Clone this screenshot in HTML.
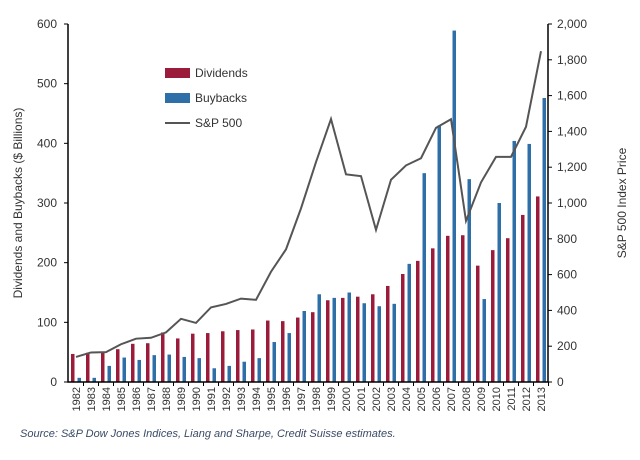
<!DOCTYPE html>
<html><head><meta charset="utf-8"><style>
body{margin:0;background:#fff;font-family:"Liberation Sans",sans-serif}
svg text{font-family:"Liberation Sans",sans-serif}
</style></head><body>
<svg width="640" height="455" id="c">
<text x="20" y="437" font-size="11" font-style="italic" fill="#3a4a66">Source: S&amp;P Dow Jones Indices, Liang and Sharpe, Credit Suisse estimates.</text>
</svg>
<script>
const years=[1982,1983,1984,1985,1986,1987,1988,1989,1990,1991,1992,1993,1994,1995,1996,1997,1998,1999,2000,2001,2002,2003,2004,2005,2006,2007,2008,2009,2010,2011,2012,2013];
const dividends=[47,49,50,55,64,65,83,73,81,82,85,87,88,103,102,108,117,137,141,143,147,161,181,203,224,245,246,195,221,241,280,311];
const buybacks=[7,7,27,41,37,45,46,42,40,23,27,34,40,67,82,119,147,141,150,132,127,131,198,350,430,589,340,139,300,404,399,476];
const sp500=[140,165,167,211,242,247,277,353,330,417,436,466,459,616,741,970,1229,1469,1160,1150,850,1130,1210,1250,1420,1468,900,1115,1258,1258,1426,1848];
const leftTicks=[0,100,200,300,400,500,600];
const rightTicks=[0,200,400,600,800,1000,1200,1400,1600,1800,2000];
const NS='http://www.w3.org/2000/svg',svg=document.getElementById('c');
const x0=68,x1=548,yB=382,yT=24;
const yL=v=>yB-(v/600)*(yB-yT), yR=v=>yB-(v/2000)*(yB-yT);
const xc=i=>76+i*(465/(years.length-1));
function mk(t,a){const e=document.createElementNS(NS,t);for(const k in a)e.setAttribute(k,a[k]);svg.appendChild(e);return e;}
years.forEach((y,i)=>{
 let r=mk('rect',{x:xc(i)-5,y:yL(dividends[i]),width:3.5,height:yB-yL(dividends[i]),fill:'#9b1b3a'});
 
 
 let b=mk('rect',{x:xc(i)+1.5,y:yL(buybacks[i]),width:3.5,height:yB-yL(buybacks[i]),fill:'#2f6fa8'});
 
 
 let t=mk('text',{x:0,y:0,'font-size':11,fill:'#333','text-anchor':'end',transform:`translate(${xc(i)+4},387) rotate(-90)`});
 t.textContent=y;
 
 
 let tk=mk('line',{x1:xc(i)+7.5,x2:xc(i)+7.5,y1:yB,y2:yB+4,stroke:'#000'});
 
 
});
let line=mk('polyline',{points:sp500.map((v,i)=>xc(i)+','+yR(v)).join(' '),fill:'none',stroke:'#555','stroke-width':2});


let ax=mk('path',{d:`M${x0},${yT} V${yB} H${x1} V${yT}`,fill:'none',stroke:'#000','stroke-width':1.5});


leftTicks.forEach(v=>{
 let t=mk('text',{x:57,y:yL(v)+4,'font-size':12,fill:'#333','text-anchor':'end'});t.textContent=v;
 
 
 mk('line',{x1:x0-4,x2:x0,y1:yL(v),y2:yL(v),stroke:'#000'});
});
rightTicks.forEach(v=>{
 let t=mk('text',{x:557,y:yR(v)+4,'font-size':12,fill:'#333'});t.textContent=v.toLocaleString('en-US');
 
 
 mk('line',{x1:x1,x2:x1+4,y1:yR(v),y2:yR(v),stroke:'#000'});
});
let lt=mk('text',{x:0,y:0,'font-size':12,fill:'#333','text-anchor':'middle',transform:'translate(22,203) rotate(-90)'});lt.textContent='Dividends and Buybacks ($ Billions)';


let rt=mk('text',{x:0,y:0,'font-size':12,fill:'#333','text-anchor':'middle',transform:'translate(626,203) rotate(-90)'});rt.textContent='S&P 500 Index Price';


[['Dividends','#9b1b3a',73,'rect'],['Buybacks','#2f6fa8',98,'rect'],['S&P 500','#555',123,'line']].forEach(([n,c,y,k])=>{
 let s=k==='rect'?mk('rect',{x:165,y:y-5,width:25,height:10,fill:c}):mk('line',{x1:165,x2:190,y1:y,y2:y,stroke:c,'stroke-width':2});
 
 
 let t=mk('text',{x:195,y:y+4,'font-size':12,fill:'#333'});t.textContent=n;
 
 
});
</script>
</body></html>
